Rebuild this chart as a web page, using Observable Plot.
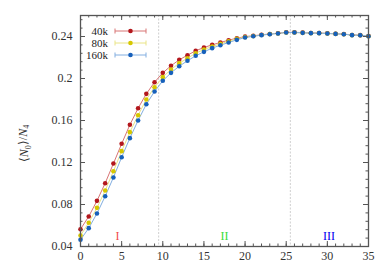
<!DOCTYPE html>
<html>
<head>
<meta charset="utf-8">
<script src="https://cdn.jsdelivr.net/npm/d3@7"></script>
<script src="https://cdn.jsdelivr.net/npm/@observablehq/plot@0.6"></script>
<style>
  html, body { margin: 0; padding: 0; background: #fff; }
</style>
</head>
<body>
<div id="chart"></div>
<script>
const xs = [0,1,2,3,4,5,6,7,8,9,10,11,12,13,14,15,16,17,18,19,20,21,22,23,24,25,26,27,28,29,30,31,32,33,34,35];
const series = ["40k", "80k", "160k"];
const v40k = [0.0565,0.0686,0.0835,0.1003,0.1190,0.1378,0.1559,0.1717,0.1854,0.1965,0.2054,0.2121,0.2178,0.2222,0.2264,0.2295,0.2321,0.2343,0.2365,0.2384,0.2399,0.2407,0.2416,0.2424,0.2431,0.2440,0.2440,0.2437,0.2434,0.2433,0.2430,0.2426,0.2423,0.2415,0.2413,0.2404];
const v80k = [0.0505,0.0626,0.0768,0.0933,0.1117,0.1308,0.1489,0.1650,0.1800,0.1917,0.2013,0.2086,0.2146,0.2193,0.2241,0.2276,0.2305,0.2330,0.2355,0.2378,0.2394,0.2404,0.2414,0.2423,0.2429,0.2438,0.2438,0.2435,0.2432,0.2432,0.2429,0.2425,0.2422,0.2413,0.2412,0.2403];
const v160k = [0.0464,0.0575,0.0714,0.0879,0.1057,0.1250,0.1432,0.1600,0.1755,0.1876,0.1978,0.2054,0.2117,0.2169,0.2216,0.2254,0.2289,0.2317,0.2343,0.2368,0.2390,0.2402,0.2413,0.2422,0.2429,0.2438,0.2438,0.2435,0.2432,0.2432,0.2429,0.2425,0.2422,0.2413,0.2412,0.2403];
const xTicks = [0,5,10,15,20,25,30,35];
const yTicks = [0.04,0.08,0.12,0.16,0.2,0.24];
const xMinor = d3.range(0, 36, 1);
const yMinor = d3.range(0, 28).map(i => +(0.04 + i*0.008).toFixed(3)).filter(v => v <= 0.26);
const boundaries = [9.5, 25.5];
const regionLabels = ["I", "II", "III"];
const regionX = [4.5, 17.5, 30.2];
const regionY = [0.0495, 0.0495, 0.0495];

const dotColors = {"40k": "#b3171c", "80k": "#d6c700", "160k": "#1660bb"};
const lineColors = {"40k": "#d87474", "80k": "#e9e486", "160k": "#82aee0"};
const regionColors = ["#f24a4a", "#33dd33", "#0000f0"];

const values = {"40k": v40k, "80k": v80k, "160k": v160k};
const table = series.flatMap(s => xs.map((x, i) => ({series: s, x, v: values[s][i]})));
const regions = regionLabels.map((t, i) => ({t, x: regionX[i], y: regionY[i], c: regionColors[i]}));

const W = 387, H = 272, mL = 80, mR = 19, mT = 15, mB = 26;
const innerH = H - mT - mB, innerW = W - mL - mR;
const serif = "Liberation Serif, Times New Roman, serif";

function legendMark(index, scales, vals, dims) {
  const g = d3.create("svg:g").attr("font-family", serif).attr("font-size", 11);
  series.forEach((s, i) => {
    const cy = dims.marginTop + 16 + i * 12;
    const tx = dims.marginLeft + 28;
    g.append("text").attr("x", tx).attr("y", cy).attr("dy", "0.35em")
      .attr("text-anchor", "end").attr("fill", "#222").text(s);
    const x1 = dims.marginLeft + 35, x2 = dims.marginLeft + 66, xm = (x1 + x2) / 2;
    g.append("line").attr("x1", x1).attr("x2", x2).attr("y1", cy).attr("y2", cy)
      .attr("stroke", lineColors[s]).attr("stroke-width", 1);
    [x1, x2].forEach(xx => g.append("line").attr("x1", xx).attr("x2", xx)
      .attr("y1", cy - 2.5).attr("y2", cy + 2.5).attr("stroke", lineColors[s]).attr("stroke-width", 1));
    g.append("circle").attr("cx", xm).attr("cy", cy).attr("r", 2.3).attr("fill", dotColors[s]);
  });
  return g.node();
}

function yLabelMark(index, scales, vals, dims) {
  const cy = dims.marginTop + (dims.height - dims.marginTop - dims.marginBottom) / 2 + 13;
  const t = d3.create("svg:text")
    .attr("transform", `translate(24,${cy}) rotate(-90)`)
    .attr("text-anchor", "middle").attr("dy", "0.35em")
    .attr("font-family", serif).attr("font-size", 12).attr("fill", "#333");
  t.append("tspan").text("\u27E8");
  t.append("tspan").attr("font-style", "italic").text("N");
  t.append("tspan").attr("font-size", 8).attr("dy", "0.3em").text("0");
  t.append("tspan").attr("dy", "-0.3em").text("\u27E9/");
  t.append("tspan").attr("font-style", "italic").text("N");
  t.append("tspan").attr("font-size", 8).attr("dy", "0.3em").text("4");
  return t.node();
}

const marks = [
  Plot.ruleX(boundaries, {stroke: "#cfcfcf", strokeWidth: 1, strokeDasharray: "2,1.5"}),
];
series.forEach(s => {
  const d = table.filter(r => r.series === s);
  marks.push(Plot.line(d, {x: "x", y: "v", stroke: lineColors[s], strokeWidth: 1}));
});
series.forEach(s => {
  const d = table.filter(r => r.series === s);
  marks.push(Plot.dot(d, {x: "x", y: "v", fill: dotColors[s], r: 2.3}));
});
marks.push(
  Plot.text(regions, {x: "x", y: "y", text: "t", fill: "c", fontFamily: serif, fontSize: 12}),
  Plot.tickX(xMinor, {x: d => d, insetTop: innerH - 2.5, stroke: "#555", strokeWidth: 1}),
  Plot.tickX(xMinor, {x: d => d, insetBottom: innerH - 2.5, stroke: "#555", strokeWidth: 1}),
  Plot.tickX(xTicks, {x: d => d, insetTop: innerH - 5, stroke: "#555", strokeWidth: 1}),
  Plot.tickX(xTicks, {x: d => d, insetBottom: innerH - 5, stroke: "#555", strokeWidth: 1}),
  Plot.tickY(yMinor, {y: d => d, insetRight: innerW - 2.5, stroke: "#555", strokeWidth: 1}),
  Plot.tickY(yMinor, {y: d => d, insetLeft: innerW - 2.5, stroke: "#555", strokeWidth: 1}),
  Plot.tickY(yTicks, {y: d => d, insetRight: innerW - 5, stroke: "#555", strokeWidth: 1}),
  Plot.tickY(yTicks, {y: d => d, insetLeft: innerW - 5, stroke: "#555", strokeWidth: 1}),
  Plot.frame({stroke: "#555", strokeWidth: 1.3}),
  Plot.axisX({ticks: xTicks, tickSize: 0, tickPadding: 5, fontSize: 12, fontFamily: serif, color: "#333", label: null, tickFormat: d => String(d)}),
  Plot.axisY({ticks: yTicks, tickSize: 0, tickPadding: 8, fontSize: 12, fontFamily: serif, color: "#333", label: null, tickFormat: d => String(+d.toFixed(2))}),
  legendMark,
  yLabelMark
);

const chart = Plot.plot({
  width: W, height: H,
  marginLeft: mL, marginRight: mR, marginTop: mT, marginBottom: mB,
  style: {background: "#fff", overflow: "visible"},
  x: {domain: [0, 35]},
  y: {domain: [0.04, 0.26]},
  marks
});
document.getElementById("chart").appendChild(chart);
</script>
</body>
</html>
